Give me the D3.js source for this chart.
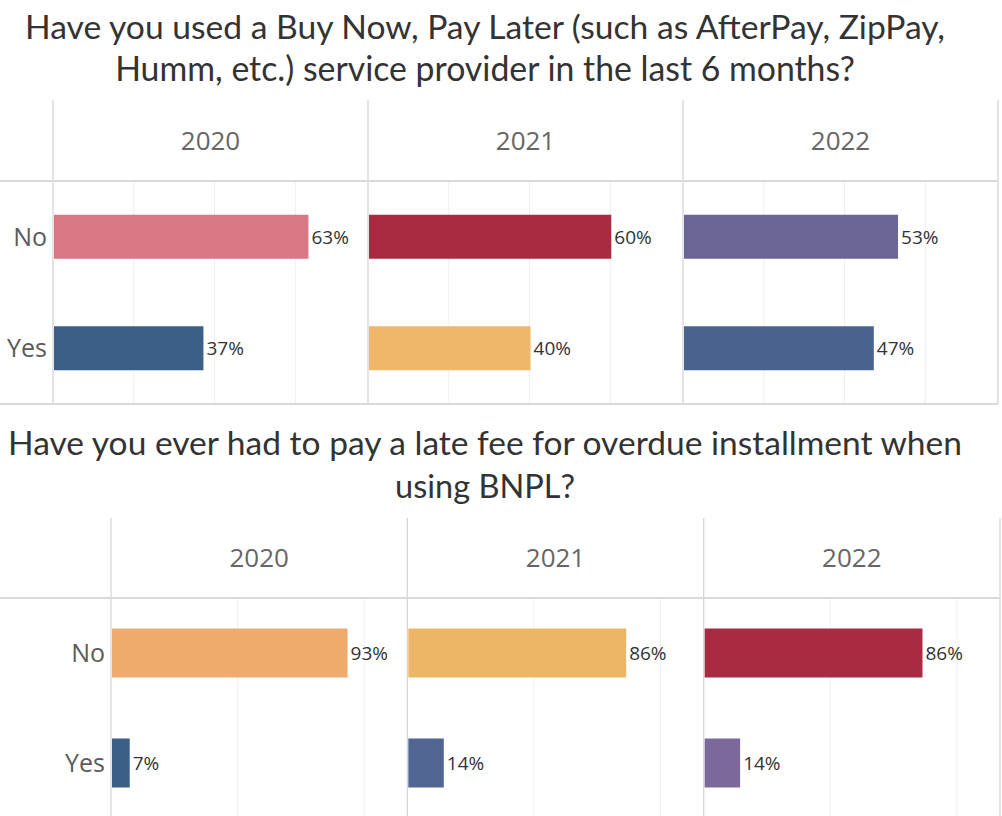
<!DOCTYPE html>
<html>
<head>
<meta charset="utf-8">
<script src="https://cdn.jsdelivr.net/npm/d3@7.9.0/dist/d3.min.js"></script>
<style>
  body { margin: 0; background: #fff; }
  svg { display: block; font-family: "Open Sans", "Noto Sans", sans-serif; }
  .title { font-family: Lato, "Open Sans", sans-serif; }
</style>
</head>
<body>
<svg id="chart" width="1002" height="816"></svg>
<script>
const years = ['2020', '2021', '2022'];
const answers = ['No', 'Yes'];

// Q1: used BNPL in the last 6 months (%)
const usedNo = [63, 60, 53];
const usedYes = [37, 40, 47];
const usedNoColors = ['#d97787', '#a92b42', '#6b6698'];
const usedYesColors = ['#3c5f87', '#efb76a', '#48638e'];
const usedTicks = [20, 40, 60];

// Q2: paid a late fee (%)
const lateNo = [93, 86, 86];
const lateYes = [7, 14, 14];
const lateNoColors = ['#efaa6e', '#edb566', '#a92b42'];
const lateYesColors = ['#3c5f87', '#516592', '#7b699c'];
const lateTicks = [50, 100];

const usedTitle = ['Have you used a Buy Now, Pay Later (such as AfterPay, ZipPay,',
                   'Humm, etc.) service provider in the last 6 months?'];
const lateTitle = ['Have you ever had to pay a late fee for overdue installment when',
                   'using BNPL?'];

const svg = d3.select('#chart');

// shrink/grow a text node so it spans roughly the wanted width
function fitWidth(sel, target) {
  const node = sel.node();
  const size = parseFloat(sel.attr('font-size'));
  const len = node.getComputedTextLength();
  sel.attr('font-size', (size * target / len).toFixed(2));
}

function drawTitle(lines, ys, widths) {
  lines.forEach((line, i) => {
    const t = svg.append('text')
      .attr('class', 'title')
      .attr('x', 485)
      .attr('y', ys[i])
      .attr('text-anchor', 'middle')
      .attr('font-size', 28)
      .attr('fill', '#333')
      .text(line);
    fitWidth(t, widths[i]);
  });
}

function drawPanels(cfg) {
  const { noVals, yesVals, noColors, yesColors, ticks, maxVal,
          left, right, top, headerBottom, bottom, rowBottom, barH } = cfg;

  const px = d3.scaleBand().domain(years).range([left, right]);
  const x = d3.scaleLinear().domain([0, maxVal]).range([0, px.bandwidth()]);
  const y = d3.scalePoint().domain(answers).range([headerBottom, rowBottom]).padding(0.5);

  const g = svg.append('g');

  // light gridlines
  years.forEach((yr) => {
    g.selectAll(null)
      .data(ticks)
      .enter()
      .append('line')
      .attr('x1', (d) => px(yr) + x(d))
      .attr('x2', (d) => px(yr) + x(d))
      .attr('y1', headerBottom)
      .attr('y2', bottom)
      .attr('stroke', '#efefef')
      .attr('stroke-width', 1);
  });

  // panel separators (plus right edge)
  const seps = years.map((d) => px(d)).concat([right]);
  g.selectAll(null)
    .data(seps)
    .enter()
    .append('line')
    .attr('x1', (d) => d)
    .attr('x2', (d) => d)
    .attr('y1', top)
    .attr('y2', bottom)
    .attr('stroke', '#d6d6d6')
    .attr('stroke-width', 1.3);

  // header line
  g.append('line')
    .attr('x1', 0).attr('x2', right)
    .attr('y1', headerBottom).attr('y2', headerBottom)
    .attr('stroke', '#d9d9d9')
    .attr('stroke-width', 2);

  // year headers
  g.selectAll(null)
    .data(years)
    .enter()
    .append('text')
    .attr('x', (d) => px(d) + px.bandwidth() / 2)
    .attr('y', (top + headerBottom) / 2 + 9)
    .attr('text-anchor', 'middle')
    .attr('font-size', 26)
    .attr('fill', '#666')
    .text((d) => d);

  // row labels
  g.selectAll(null)
    .data(answers)
    .enter()
    .append('text')
    .attr('x', left - 6)
    .attr('y', (d) => y(d) + 9)
    .attr('text-anchor', 'end')
    .attr('font-size', 25)
    .attr('fill', '#5b5b5b')
    .text((d) => d);

  // bars + value labels
  const rows = [];
  years.forEach((yr, i) => {
    rows.push({ year: yr, answer: 'No', value: noVals[i], color: noColors[i] });
    rows.push({ year: yr, answer: 'Yes', value: yesVals[i], color: yesColors[i] });
  });

  g.selectAll(null)
    .data(rows)
    .enter()
    .append('rect')
    .attr('x', (d) => px(d.year) + 1)
    .attr('y', (d) => y(d.answer) - barH / 2)
    .attr('width', (d) => x(d.value))
    .attr('height', barH)
    .attr('fill', (d) => d.color);

  g.selectAll(null)
    .data(rows)
    .enter()
    .append('text')
    .attr('x', (d) => px(d.year) + x(d.value) + 4)
    .attr('y', (d) => y(d.answer) + 7)
    .attr('font-size', 19)
    .attr('fill', '#333')
    .text((d) => `${d.value}%`);

  if (cfg.bottomLine) {
    g.append('line')
      .attr('x1', 0).attr('x2', right)
      .attr('y1', bottom).attr('y2', bottom)
      .attr('stroke', '#d9d9d9')
      .attr('stroke-width', 2);
  }
}

drawTitle(usedTitle, [39, 81], [920, 740]);
drawPanels({
  noVals: usedNo, yesVals: usedYes, noColors: usedNoColors, yesColors: usedYesColors,
  ticks: usedTicks, maxVal: 78,
  left: 53, right: 998, top: 100, headerBottom: 181, bottom: 404, rowBottom: 404,
  barH: 44, bottomLine: true
});

drawTitle(lateTitle, [455, 498], [954, 180]);
drawPanels({
  noVals: lateNo, yesVals: lateYes, noColors: lateNoColors, yesColors: lateYesColors,
  ticks: lateTicks, maxVal: 117,
  left: 111, right: 1000, top: 518, headerBottom: 598, bottom: 816, rowBottom: 818,
  barH: 49, bottomLine: false
});
</script>
</body>
</html>
